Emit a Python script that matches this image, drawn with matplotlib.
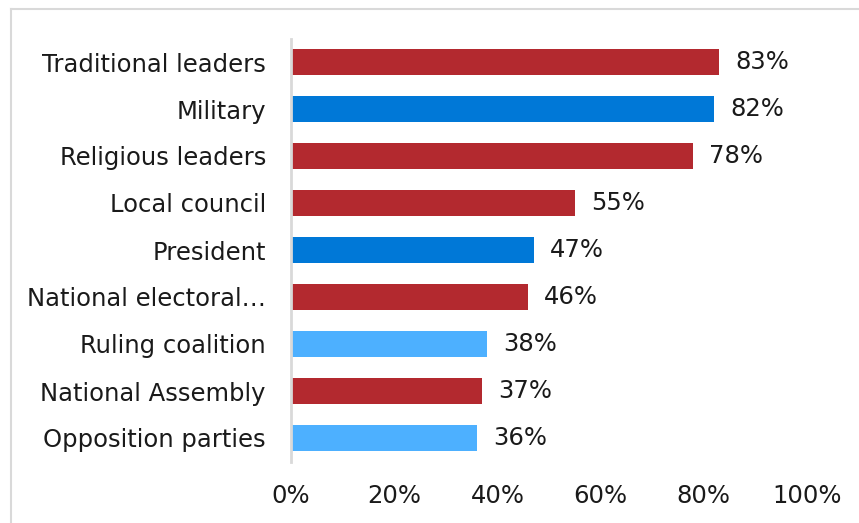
import matplotlib.pyplot as plt
from matplotlib.lines import Line2D

categories = ["Traditional leaders", "Military", "Religious leaders", "Local council",
              "President", "National electoral\u2026", "Ruling coalition",
              "National Assembly", "Opposition parties"]
values = [83, 82, 78, 55, 47, 46, 38, 37, 36]
groups = ["red", "dark", "red", "red", "dark", "red", "light", "red", "light"]
palette = {"red": "#B3292F", "dark": "#0078D7", "light": "#4DB0FF"}
xticks = [0, 20, 40, 60, 80, 100]

plt.rcParams['font.family'] = ['DejaVu Sans']
FS = 17.5
TXT = "#1a1a1a"

fig = plt.figure(figsize=(8.59, 5.23), dpi=100)
ax = fig.add_axes([291 / 859, 1 - 461.5 / 523, (807 - 291) / 859, (461.5 - 38.5) / 523])

ypos = list(range(len(categories)))
ax.barh(ypos, values, height=0.56, color=[palette[g] for g in groups])
ax.set_ylim(len(categories) - 0.5, -0.5)
ax.set_xlim(0, 100)
ax.set_yticks(ypos)
ax.set_yticklabels(categories, fontsize=FS, color=TXT)
ax.set_xticks(xticks)
ax.set_xticklabels([f"{t}%" for t in xticks], fontsize=FS, color=TXT)
ax.tick_params(axis='both', length=0)
ax.tick_params(axis='y', pad=18)
ax.tick_params(axis='x', pad=16)

for s in ["top", "right", "bottom"]:
    ax.spines[s].set_visible(False)
ax.spines["left"].set_color("#D9D9D9")
ax.spines["left"].set_linewidth(2)

for y, v in zip(ypos, values):
    ax.annotate(f"{v}%", (v, y), xytext=(16, 0), textcoords="offset pixels",
                va="center", ha="left", fontsize=FS, color=TXT)

# outer frame lines
fig.add_artist(Line2D([11 / 859, 11 / 859], [0, 1 - 9 / 523], transform=fig.transFigure,
                      color="#D9D9D9", lw=1.5))
fig.add_artist(Line2D([11 / 859, 1], [1 - 9 / 523, 1 - 9 / 523], transform=fig.transFigure,
                      color="#D9D9D9", lw=1.5))

fig.savefig("out.png", dpi=100)
